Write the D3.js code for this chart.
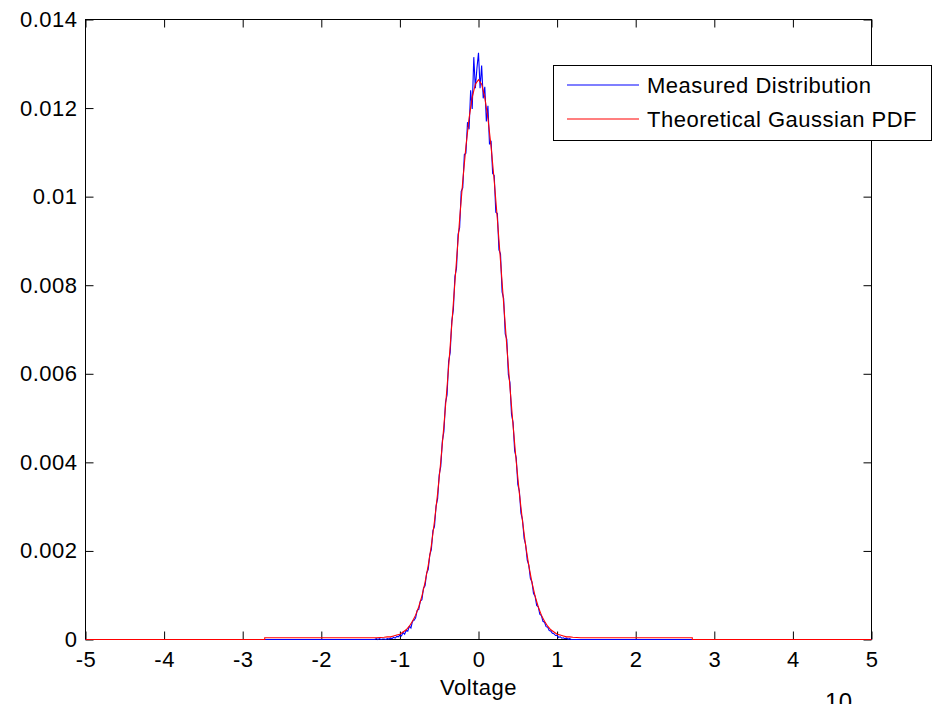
<!DOCTYPE html>
<html>
<head>
<meta charset="utf-8">
<script src="https://cdn.jsdelivr.net/npm/d3@7"></script>
<style>
  body { margin: 0; background: #fff; }
  svg { display: block; font-family: "Liberation Sans", Arial, sans-serif; }
  text { letter-spacing: 0.5px; }
</style>
</head>
<body>
<svg width="935" height="704"></svg>
<script>
// Tick values
var xTicks = [-5, -4, -3, -2, -1, 0, 1, 2, 3, 4, 5];
var yTicks = [0, 0.002, 0.004, 0.006, 0.008, 0.01, 0.012, 0.014];

// Measured distribution
var measuredX = [-5, -1.32, -1.30, -1.28, -1.26, -1.24, -1.22,
  -1.20, -1.18, -1.16, -1.14, -1.12, -1.10, -1.08, -1.06, -1.04, -1.02,
  -1.00, -0.98, -0.96, -0.94, -0.92, -0.90, -0.88, -0.86, -0.84, -0.82,
  -0.80, -0.78, -0.76, -0.74, -0.72, -0.70, -0.68, -0.66, -0.64, -0.62,
  -0.60, -0.58, -0.56, -0.54, -0.52, -0.50, -0.48, -0.46, -0.44, -0.42,
  -0.40, -0.38, -0.36, -0.34, -0.32, -0.30, -0.28, -0.26, -0.24, -0.22,
  -0.20, -0.18, -0.16, -0.14, -0.12, -0.10, -0.08, -0.06, -0.04, -0.02,
  0.00, 0.02, 0.04, 0.06, 0.08, 0.10, 0.12, 0.14, 0.16, 0.18,
  0.20, 0.22, 0.24, 0.26, 0.28, 0.30, 0.32, 0.34, 0.36, 0.38,
  0.40, 0.42, 0.44, 0.46, 0.48, 0.50, 0.52, 0.54, 0.56, 0.58,
  0.60, 0.62, 0.64, 0.66, 0.68, 0.70, 0.72, 0.74, 0.76, 0.78,
  0.80, 0.82, 0.84, 0.86, 0.88, 0.90, 0.92, 0.94, 0.96, 0.98,
  1.00, 1.02, 1.04, 1.06, 1.08, 1.10, 1.12, 1.14, 1.16, 1.18, 1.20, 5];
var measuredY = [0, 0, 0.00002, 0, 0.00002, 0, 0.00001,
  0.00001, 0, 0.00002, 0.00001, 0.00003, 0.00002, 0.00005, 0.00003, 0.00007, 0.00006,
  0.00010, 0.00008, 0.00016, 0.00012, 0.00021, 0.00019, 0.00030, 0.00026, 0.00041, 0.00043,
  0.00049, 0.00066, 0.00068, 0.00087, 0.00090, 0.00116, 0.00121, 0.00150, 0.00158, 0.00191,
  0.00203, 0.00246, 0.00255, 0.00301, 0.00318, 0.00372, 0.00391, 0.00448, 0.00470, 0.00535,
  0.00552, 0.00628, 0.00648, 0.00719, 0.00744, 0.00820, 0.00838, 0.00915, 0.00930, 0.01012,
  0.01020, 0.01095, 0.01098, 0.01168, 0.01152, 0.01240, 0.01198, 0.01315, 0.01245, 0.01290,
  0.01325, 0.01245, 0.01296, 0.01222, 0.01248, 0.01170, 0.01205, 0.01118, 0.01126, 0.01052,
  0.01048, 0.00965, 0.00962, 0.00880, 0.00871, 0.00785, 0.00770, 0.00690, 0.00678, 0.00598,
  0.00580, 0.00508, 0.00490, 0.00426, 0.00410, 0.00350, 0.00335, 0.00285, 0.00270, 0.00228,
  0.00214, 0.00179, 0.00168, 0.00138, 0.00130, 0.00104, 0.00098, 0.00077, 0.00074, 0.00057,
  0.00054, 0.00041, 0.00039, 0.00029, 0.00028, 0.00020, 0.00019, 0.00014, 0.00013, 0.00009,
  0.00009, 0.00005, 0.00006, 0.00003, 0.00004, 0.00002, 0.00003, 0.00001, 0.00002, 0, 0, 0];

// Theoretical Gaussian PDF
var gaussX = [-5, -2.72, -2.72, -1.30,
  -1.20, -1.16, -1.12, -1.08, -1.04, -1.00, -0.96, -0.92, -0.88, -0.84, -0.80,
  -0.76, -0.72, -0.68, -0.64, -0.60, -0.56, -0.52, -0.48, -0.44, -0.40,
  -0.36, -0.32, -0.28, -0.24, -0.20, -0.16, -0.12, -0.08, -0.04,
  0,
  0.04, 0.08, 0.12, 0.16, 0.20, 0.24, 0.28, 0.32, 0.36,
  0.40, 0.44, 0.48, 0.52, 0.56, 0.60, 0.64, 0.68, 0.72, 0.76,
  0.80, 0.84, 0.88, 0.92, 0.96, 1.00, 1.04, 1.08, 1.12, 1.16, 1.20,
  1.30, 2.72, 2.72, 5];
var gaussY = [0, 0, 0.00004, 0.00004,
  0.00005, 0.00006, 0.00006, 0.00008, 0.00010, 0.00012, 0.00017, 0.00022, 0.00030, 0.00041, 0.00055,
  0.00074, 0.00098, 0.00129, 0.00167, 0.00212, 0.00267, 0.00330, 0.00402, 0.00483, 0.00570,
  0.00663, 0.00759, 0.00855, 0.00949, 0.01036, 0.01113, 0.01177, 0.01224, 0.01254,
  0.01264,
  0.01254, 0.01224, 0.01177, 0.01113, 0.01036, 0.00949, 0.00855, 0.00759, 0.00663,
  0.00570, 0.00483, 0.00402, 0.00330, 0.00267, 0.00212, 0.00167, 0.00129, 0.00098, 0.00074,
  0.00055, 0.00041, 0.00030, 0.00022, 0.00017, 0.00012, 0.00010, 0.00008, 0.00006, 0.00006, 0.00005,
  0.00004, 0.00004, 0, 0];

var seriesNames = ["Measured Distribution", "Theoretical Gaussian PDF"];
var seriesColors = ["#0000ff", "#ff0000"];

var svg = d3.select("svg");

// plot box
var plotLeft = 85.5, plotRight = 871.5, plotTop = 19.5, plotBottom = 639.5;

var x = d3.scaleLinear().domain([-5, 5]).range([plotLeft, plotRight]);
var y = d3.scaleLinear().domain([0, 0.014]).range([plotBottom, plotTop]);

var fontSize = "22px";

svg.append("rect")
  .attr("x", plotLeft).attr("y", plotTop)
  .attr("width", plotRight - plotLeft).attr("height", plotBottom - plotTop)
  .attr("fill", "#fff")
  .attr("stroke", "#000")
  .attr("stroke-width", 1);

// bottom axis, ticks pointing in
var xAxis = svg.append("g")
  .attr("transform", "translate(0," + plotBottom + ")")
  .call(d3.axisBottom(x).tickValues(xTicks).tickSizeInner(-8).tickSizeOuter(0).tickPadding(12)
    .tickFormat(function(d) { return String(d); }));
// top axis mirror
var xTop = svg.append("g")
  .attr("transform", "translate(0," + plotTop + ")")
  .call(d3.axisTop(x).tickValues(xTicks).tickSizeInner(-8).tickSizeOuter(0).tickFormat(""));
// left axis
var yAxis = svg.append("g")
  .attr("transform", "translate(" + plotLeft + ",0)")
  .call(d3.axisLeft(y).tickValues(yTicks).tickSizeInner(-8).tickSizeOuter(0).tickPadding(8)
    .tickFormat(function(d) { return String(d); }));
// right axis mirror
var yRight = svg.append("g")
  .attr("transform", "translate(" + plotRight + ",0)")
  .call(d3.axisRight(y).tickValues(yTicks).tickSizeInner(-8).tickSizeOuter(0).tickFormat(""));

[xAxis, xTop, yAxis, yRight].forEach(function(g) {
  g.select(".domain").remove();
  g.selectAll("line").attr("stroke", "#000");
  g.selectAll("text")
    .attr("fill", "#000")
    .style("font-size", fontSize)
    .style("font-family", "'Liberation Sans', Arial, sans-serif");
});

// the two curves
var line = d3.line()
  .x(function(d) { return x(d[0]); })
  .y(function(d) { return y(d[1]); });

var measured = d3.zip(measuredX, measuredY);
var gauss = d3.zip(gaussX, gaussY);

svg.append("path")
  .datum(measured)
  .attr("d", line)
  .attr("fill", "none")
  .attr("stroke", seriesColors[0])
  .attr("stroke-width", 1.1);

svg.append("path")
  .datum(gauss)
  .attr("d", line)
  .attr("fill", "none")
  .attr("stroke", seriesColors[1])
  .attr("stroke-width", 1.1);

// axis label
svg.append("text")
  .attr("x", (plotLeft + plotRight) / 2)
  .attr("y", 695)
  .attr("text-anchor", "middle")
  .style("font-size", fontSize)
  .text("Voltage");

// clipped exponent text at the bottom
svg.append("text")
  .attr("x", 825)
  .attr("y", 710)
  .style("font-size", "24px")
  .text("10");

// legend
var legend = svg.append("g");
legend.append("rect")
  .attr("x", 553.5).attr("y", 65.5)
  .attr("width", 378).attr("height", 75)
  .attr("fill", "#fff")
  .attr("stroke", "#000")
  .attr("stroke-width", 1);

seriesNames.forEach(function(name, i) {
  var ly = 85 + i * 34;
  legend.append("line")
    .attr("x1", 567).attr("x2", 639)
    .attr("y1", ly).attr("y2", ly)
    .attr("stroke", seriesColors[i])
    .attr("stroke-width", 1.2);
  legend.append("text")
    .attr("x", 647)
    .attr("y", ly)
    .attr("dy", "0.35em")
    .style("font-size", fontSize)
    .text(name);
});
</script>
</body>
</html>
